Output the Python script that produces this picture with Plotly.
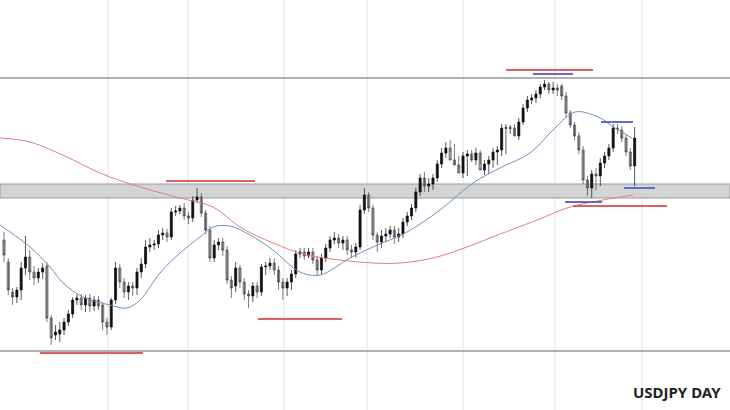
import plotly.graph_objects as go

# candle data (price scale in screen units, axis reversed)
opens = [240, 262, 292, 297, 290, 268, 257, 272, 278, 272, 266, 318, 335, 334, 330, 322, 314, 300, 298, 305,
         298, 306, 300, 305, 322, 327, 300, 268, 282, 292, 286, 288, 272, 264, 247, 245, 244, 235, 233, 237,
         212, 211, 208, 216, 218, 200, 197, 213, 230, 258, 245, 242, 250, 280, 286, 268, 282, 294, 296, 286,
         292, 267, 266, 263, 270, 282, 288, 282, 274, 254, 252, 256, 252, 260, 270, 258, 248, 240, 238, 243,
         240, 250, 252, 247, 210, 195, 208, 235, 242, 236, 234, 230, 237, 234, 222, 216, 208, 192, 178, 186,
         184, 178, 164, 153, 148, 160, 165, 173, 156, 154, 160, 153, 170, 164, 160, 152, 150, 128, 128, 128,
         136, 122, 108, 100, 98, 94, 87, 84, 90, 88, 86, 96, 113, 125, 136, 150, 180, 188, 174, 176,
         163, 156, 148, 128, 130, 138, 152, 166]
closes = [255, 290, 297, 290, 268, 257, 272, 278, 272, 268, 318, 338, 332, 330, 322, 314, 300, 298, 305, 298,
          306, 300, 306, 322, 327, 300, 268, 282, 292, 286, 288, 272, 264, 247, 245, 244, 235, 233, 237, 212,
          211, 208, 216, 218, 200, 197, 213, 230, 258, 245, 242, 250, 280, 288, 268, 282, 294, 296, 286, 292,
          267, 266, 263, 270, 282, 288, 282, 274, 254, 252, 256, 252, 260, 270, 258, 248, 240, 238, 243, 240,
          250, 252, 247, 210, 195, 208, 235, 242, 236, 234, 230, 237, 234, 222, 216, 208, 192, 178, 186, 184,
          178, 164, 153, 148, 160, 165, 173, 156, 154, 160, 153, 170, 164, 160, 152, 150, 128, 128, 128, 136,
          122, 108, 100, 98, 94, 87, 84, 90, 88, 90, 96, 113, 125, 136, 150, 180, 188, 174, 176, 163,
          156, 148, 128, 129, 138, 152, 166, 138]
highs = [232, 258, 288, 287, 262, 236, 250, 266, 268, 263, 262, 315, 325, 322, 318, 310, 297, 294, 294, 295,
         294, 296, 296, 302, 318, 298, 262, 264, 278, 282, 282, 268, 258, 240, 238, 240, 230, 228, 229, 208,
         206, 205, 203, 212, 196, 188, 193, 210, 226, 240, 238, 238, 246, 276, 262, 265, 278, 290, 282, 282,
         264, 262, 258, 258, 266, 278, 278, 270, 250, 248, 248, 248, 248, 256, 254, 244, 236, 232, 234, 236,
         236, 245, 243, 205, 188, 192, 205, 232, 230, 228, 226, 226, 228, 218, 212, 204, 188, 174, 172, 178,
         174, 160, 148, 142, 140, 144, 156, 152, 150, 150, 148, 150, 160, 156, 148, 146, 124, 124, 125, 124,
         118, 104, 96, 94, 90, 84, 80, 82, 82, 84, 84, 92, 110, 122, 132, 146, 176, 170, 168, 158,
         152, 144, 124, 124, 126, 134, 148, 127]
lows = [262, 295, 305, 303, 300, 275, 280, 285, 283, 279, 322, 345, 340, 342, 335, 326, 318, 305, 310, 312,
        312, 311, 310, 330, 335, 330, 304, 288, 298, 300, 296, 295, 278, 268, 252, 250, 248, 240, 242, 240,
        216, 214, 220, 224, 222, 203, 217, 234, 262, 262, 250, 256, 284, 298, 292, 288, 300, 308, 302, 298,
        296, 275, 270, 275, 290, 300, 296, 290, 278, 258, 260, 258, 264, 276, 274, 262, 252, 244, 248, 250,
        255, 258, 258, 250, 214, 212, 240, 252, 248, 242, 238, 244, 242, 238, 226, 220, 212, 196, 192, 192,
        190, 182, 168, 158, 152, 164, 170, 178, 176, 162, 165, 164, 175, 174, 168, 165, 156, 154, 134, 134,
        140, 125, 112, 104, 103, 98, 90, 94, 94, 96, 100, 118, 128, 140, 154, 184, 196, 198, 190, 186,
        168, 160, 152, 134, 142, 156, 170, 186]

# moving averages, read as (screen x, value)
blue_px = [0, 30, 50, 63, 83, 110, 127, 140, 160, 180, 200, 213, 230, 250, 273, 300, 320, 350, 373, 407,
           440, 473, 500, 530, 555, 575, 598, 615, 632]
blue_val = [225, 247, 267, 283, 297, 305, 308, 300, 273, 253, 237, 227, 226, 235, 250, 272, 275, 258, 247, 232,
            210, 183, 168, 153, 128, 112, 117, 128, 138]
red_px = [0, 30, 67, 100, 140, 180, 213, 240, 273, 307, 340, 373, 400, 433, 467, 490, 537, 570, 603, 633]
red_val = [138, 142, 157, 173, 187, 198, 207, 227, 243, 255, 260, 263, 263, 258, 247, 238, 220, 207, 200, 195]

W, H = 730, 410
X0, STEP = 4, 4.29
idx = list(range(len(opens)))

fig = go.Figure()

fig.add_trace(go.Candlestick(
    x=idx, open=opens, high=highs, low=lows, close=closes,
    increasing=dict(line=dict(color="#444", width=0.7), fillcolor="white"),
    decreasing=dict(line=dict(color="#111", width=0.7), fillcolor="#111"),
    whiskerwidth=0, showlegend=False, hoverinfo="skip",
))

fig.add_trace(go.Scatter(x=[(p - X0) / STEP for p in red_px], y=red_val, mode="lines",
                         line=dict(color="#e08080", width=1, shape="spline"), showlegend=False))
fig.add_trace(go.Scatter(x=[(p - X0) / STEP for p in blue_px], y=blue_val, mode="lines",
                         line=dict(color="#6f8fc0", width=1, shape="spline"), showlegend=False))

shapes = []
# vertical grid
for gx in [108, 188, 284, 367, 463, 555, 642]:
    shapes.append(dict(type="line", xref="paper", yref="y", x0=gx / W, x1=gx / W, y0=0, y1=H,
                       line=dict(color="#e3e3e3", width=1), layer="below"))
# support band and range lines
shapes.append(dict(type="rect", xref="paper", yref="y", x0=0, x1=1, y0=184, y1=198,
                   fillcolor="#d3d4d6", line=dict(color="#9a9a9a", width=1), layer="below"))
for hy in [78, 351]:
    shapes.append(dict(type="line", xref="paper", yref="y", x0=0, x1=1, y0=hy, y1=hy,
                       line=dict(color="#999", width=1.5), layer="below"))
# marker segments
segs = [(40, 143, 353, "#e06060"), (166, 255, 181, "#e06060"), (258, 342, 319, "#e06060"),
        (506, 593, 70, "#e06060"), (533, 573, 74, "#6666cc"), (601, 633, 122, "#6666cc"),
        (624, 655, 188, "#6666cc"), (565, 602, 202, "#6666cc"), (573, 667, 206, "#e06060")]
for a, b, y, c in segs:
    shapes.append(dict(type="line", xref="paper", yref="y", x0=a / W, x1=b / W, y0=y, y1=y,
                       line=dict(color=c, width=2)))

fig.update_layout(
    width=W, height=H, margin=dict(l=0, r=0, t=0, b=0),
    paper_bgcolor="white", plot_bgcolor="white", shapes=shapes,
    xaxis=dict(range=[-X0 / STEP, (W - X0) / STEP], visible=False, rangeslider=dict(visible=False)),
    yaxis=dict(range=[H, 0], visible=False),
    annotations=[dict(text="<b>USDJPY DAY</b>", xref="paper", yref="paper", x=0.99, y=0.015,
                      xanchor="right", yanchor="bottom", showarrow=False,
                      font=dict(family="Noto Sans", size=15, color="#222"))],
)

fig.write_html("out.html", config={"displayModeBar": False},
               post_script="document.body.style.margin='0';document.body.style.overflow='hidden';")
